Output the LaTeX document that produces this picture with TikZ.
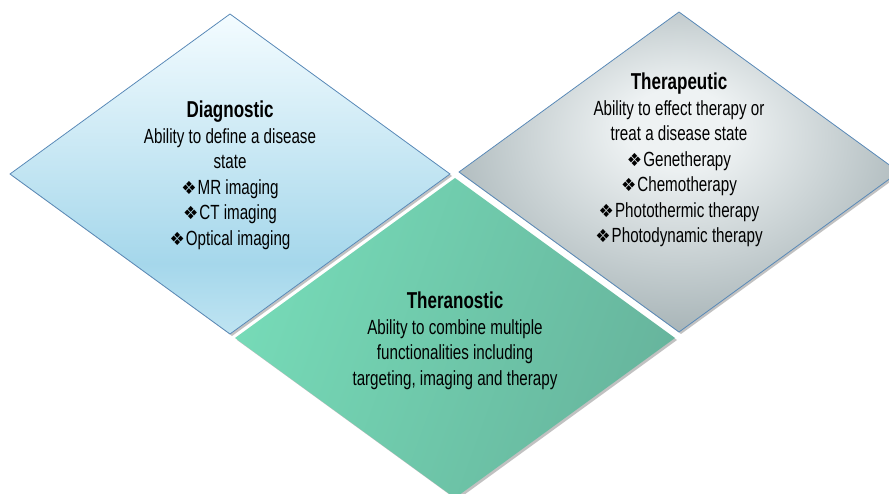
\documentclass[tikz,border=0pt]{standalone}
\usepackage{fontspec}
\setmainfont{Liberation Sans}[FakeStretch=0.74]
\newfontfamily\symfont{DejaVu Sans}[FakeStretch=0.95]
\usetikzlibrary{shadows}

\definecolor{edgeblue}{HTML}{5A8AB8}
\definecolor{diagtop}{HTML}{F4FCFF}
\definecolor{diagmid}{HTML}{A5D7EB}
\definecolor{diagbot}{HTML}{BFE4F2}
\definecolor{therin}{HTML}{EEF2F3}
\definecolor{therout}{HTML}{A4B1B4}
\definecolor{thnleft}{HTML}{76DAB7}
\definecolor{thnright}{HTML}{67B59D}

% light at the top, deepest blue low down, a little lighter at the bottom tip
\pgfdeclareverticalshading{diagshade}{100bp}{color(0bp)=(diagbot); color(25bp)=(diagbot);
  color(36bp)=(diagmid); color(75bp)=(diagtop); color(100bp)=(diagtop)}
\pgfdeclareradialshading{thershade}{\pgfpoint{0bp}{8bp}}{color(0bp)=(therin); color(6bp)=(therin);
  color(30bp)=(therout); color(50bp)=(therout)}

\newcommand{\bul}{{\symfont\fontsize{18}{18}\selectfont ❖}\hspace{1pt}}
\newcommand{\ttl}[1]{{\fontsize{23}{26}\selectfont\bfseries #1}}

\tikzset{
  x=1pt, y=-1pt,
  panel/.style={drop shadow={shadow xshift=2pt, shadow yshift=-2pt, opacity=0.35, fill=black!70}},
  rimmed/.style={draw=edgeblue, line width=0.8pt},
  txt/.style={align=center, inner sep=0pt, anchor=north, text=black,
    font=\fontsize{20.5}{25.5}\selectfont}
}

\begin{document}
\begin{tikzpicture}
\useasboundingbox (0,0) rectangle (889,494);

% Diagnostic diamond
\path[panel, rimmed, shading=diagshade]
  (230,14) -- (450,174) -- (230,334) -- (10,174) -- cycle;
% Therapeutic diamond
\path[panel, rimmed, shading=thershade]
  (679,12) -- (899,172) -- (679,332) -- (459,172) -- cycle;
% Theranostic diamond
\path[panel, left color=thnleft, right color=thnright, shading angle=70]
  (455,178) -- (675,338) -- (455,498) -- (235,338) -- cycle;

\node[txt] (diag) at (230,101) {\ttl{Diagnostic}\\ Ability to define a disease\\ state\\
  \bul MR imaging\\ \bul CT imaging\\ \bul Optical imaging};
\node[txt] (ther) at (679,73) {\ttl{Therapeutic}\\ Ability to effect therapy or\\ treat a disease state\\
  \bul Genetherapy\\ \bul Chemotherapy\\ \bul Photothermic therapy\\ \bul Photodynamic therapy};
\node[txt] (thn) at (455,292) {\ttl{Theranostic}\\ Ability to combine multiple\\
  functionalities including\\ targeting, imaging and therapy};
\end{tikzpicture}
\end{document}
